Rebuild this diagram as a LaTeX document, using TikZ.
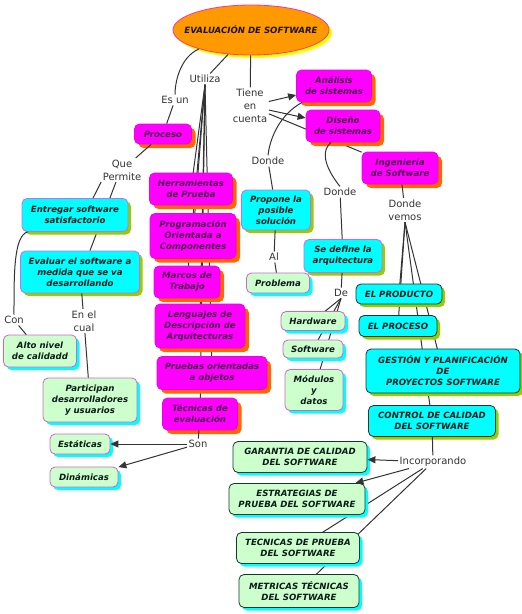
\documentclass[tikz,border=0pt]{standalone}
\usepackage{fontspec}
\setmainfont{DejaVu Sans}
\usetikzlibrary{shapes.geometric,shadows,arrows.meta,backgrounds}
\definecolor{mag}{HTML}{FF00FF}
\definecolor{magsh}{HTML}{FF6600}
\definecolor{cyanf}{HTML}{00FFFF}
\definecolor{ygsh}{HTML}{99CC00}
\definecolor{lgreen}{HTML}{CCFFCC}
\definecolor{violetb}{HTML}{CC66FF}
\definecolor{greenb}{HTML}{CC66CC}
\definecolor{darkb}{HTML}{1A3333}
\definecolor{ellf}{HTML}{FF9900}
\definecolor{ellb}{HTML}{FF3399}
\definecolor{ellsh}{HTML}{FFFF00}
\definecolor{linec}{HTML}{333333}
\definecolor{magtext}{HTML}{4D004D}
\definecolor{boxtext}{HTML}{0D1A1A}
\tikzset{
  box/.style={rectangle, rounded corners=5pt, align=center, inner sep=2pt,
    font=\fontsize{8.6}{11}\selectfont\bfseries\itshape, line width=0.8pt},
  magbox/.style={box, fill=mag, draw=mag!92!black, text=magtext,
    drop shadow={shadow xshift=4pt, shadow yshift=-4pt, fill=magsh, opacity=1}},
  cyanbox/.style={box, fill=cyanf, draw=violetb, text=boxtext,
    drop shadow={shadow xshift=3pt, shadow yshift=-3pt, fill=ygsh, opacity=1}},
  cyandark/.style={cyanbox, draw=darkb},
  greenbox/.style={box, fill=lgreen, draw=greenb, text=boxtext,
    drop shadow={shadow xshift=3pt, shadow yshift=-3pt, fill=cyanf, opacity=1}},
  greendark/.style={greenbox, draw=darkb},
  lbl/.style={font=\fontsize{10}{13}\selectfont, text=linec, align=center, inner sep=1.5pt},
  conn/.style={draw=linec, line width=1pt},
  arr/.style={conn, -{Triangle[length=8pt,width=7pt]}},
}
\begin{document}
\begin{tikzpicture}[x=1pt,y=-1pt]
\useasboundingbox (0,0) rectangle (522,614);

% main ellipse
\node[ellipse, minimum width=156pt, minimum height=50pt, inner xsep=-25pt, inner ysep=0pt,
  fill=ellf, draw=ellb, line width=0.8pt, text=black!85!brown,
  font=\fontsize{8.6}{11}\selectfont\bfseries\itshape,
  drop shadow={shadow xshift=3pt, shadow yshift=-3pt, fill=ellsh, opacity=1}]
  (ell) at (251,30) {EVALUACIÓN DE SOFTWARE};

% magenta boxes
\node[magbox, minimum width=57pt, minimum height=20pt] (proceso) at (163,134) {Proceso};
\node[magbox, minimum width=75pt, minimum height=32pt] (anal) at (334,86) {Análisis\\de sistemas};
\node[magbox, minimum width=74pt, minimum height=32pt] (dis) at (343,126) {Diseño\\de sistemas};
\node[magbox, minimum width=76pt, minimum height=32pt] (ing) at (400,168) {Ingeniería\\de Software};
\node[magbox, minimum width=83pt, minimum height=32pt] (herr) at (191,189) {Herramientas\\de Prueba};
\node[magbox, minimum width=86pt, minimum height=45pt] (prog) at (193,236) {Programación\\Orientada a\\Componentes};
\node[magbox, minimum width=66pt, minimum height=32pt] (marcos) at (187,282) {Marcos de\\Trabajo};
\node[magbox, minimum width=90pt, minimum height=44pt] (leng) at (200,326) {Lenguajes de\\Descripción de\\Arquitecturas};
\node[magbox, minimum width=110pt, minimum height=33pt] (pruebas) at (212,373) {Pruebas orientadas\\a objetos};
\node[magbox, minimum width=75pt, minimum height=32pt] (tecev) at (200,414) {Técnicas de\\evaluación};

% cyan boxes
\node[cyanbox, minimum width=106pt, minimum height=33pt] (entregar) at (75,215) {Entregar software\\satisfactorio};
\node[cyanbox, minimum width=119pt, minimum height=42pt] (evaluar) at (80,272) {Evaluar el software a\\medida que se va\\desarrollando};
\node[cyanbox, minimum width=69pt, minimum height=40pt] (propone) at (276,210) {Propone la\\posible\\solución};
\node[cyanbox, minimum width=78pt, minimum height=33pt] (sedef) at (343,256) {Se define la\\arquitectura};
\node[cyandark, minimum width=86pt, minimum height=20pt] (producto) at (399,294) {EL PRODUCTO};
\node[cyandark, minimum width=78pt, minimum height=21pt] (procesob) at (398,326) {EL PROCESO};
\node[cyandark, minimum width=154pt, minimum height=44pt] (gestion) at (443,371) {GESTIÓN Y PLANIFICACIÓN\\DE\\PROYECTOS SOFTWARE};
\node[cyandark, minimum width=127pt, minimum height=31pt] (control) at (432,421) {CONTROL DE CALIDAD\\DEL SOFTWARE};

% green boxes
\node[greenbox, minimum width=73pt, minimum height=32pt] (alto) at (40,351) {Alto nivel\\de calidadd};
\node[greenbox, minimum width=94pt, minimum height=44pt] (partic) at (90,400) {Participan\\desarrolladores\\y usuarios};
\node[greenbox, minimum width=60pt, minimum height=20pt] (estat) at (80,444) {Estáticas};
\node[greenbox, minimum width=68pt, minimum height=20pt] (dinam) at (84,477) {Dinámicas};
\node[greenbox, minimum width=63pt, minimum height=20pt] (problema) at (278,283) {Problema};
\node[greenbox, minimum width=64pt, minimum height=19pt] (hw) at (313,321) {Hardware};
\node[greenbox, minimum width=60pt, minimum height=18pt] (sw) at (313,349) {Software};
\node[greenbox, minimum width=58pt, minimum height=41pt] (modulos) at (314,390) {Módulos\\y\\datos};
\node[greendark, minimum width=134pt, minimum height=31pt] (garantia) at (300,457) {GARANTIA DE CALIDAD\\DEL SOFTWARE};
\node[greendark, minimum width=136pt, minimum height=31pt] (estrat) at (297,499) {ESTRATEGIAS DE\\PRUEBA DEL SOFTWARE};
\node[greendark, minimum width=123pt, minimum height=31pt] (tecpr) at (298,548) {TECNICAS DE PRUEBA\\DEL SOFTWARE};
\node[greendark, minimum width=120pt, minimum height=33pt] (metricas) at (299,591) {METRICAS TÉCNICAS\\DEL SOFTWARE};

% labels
\node[lbl] (utiliza) at (205,79) {Utiliza};
\node[lbl] (esun) at (175,100) {Es un};
\node[lbl] (tiene) at (250,106) {Tiene\\en\\cuenta};
\node[lbl] (permite) at (122,170) {Que\\Permite};
\node[lbl] (con) at (14,320) {Con};
\node[lbl] (enelcual) at (84,321) {En el\\cual};
\node[lbl] (son) at (198,444) {Son};
\node[lbl] (donde1) at (268,161) {Donde};
\node[lbl] (al) at (274,257) {Al};
\node[lbl] (donde2) at (340,192) {Donde};
\node[lbl] (de) at (341,293) {De};
\node[lbl] (dvemos) at (405,210) {Donde\\vemos};
\node[lbl] (incorp) at (433,462) {Incorporando};

% connectors in front
\draw[conn] (ell.200) .. controls +(-18,8) and +(0,-14) .. (esun.north);
\draw[conn] (esun) -- (proceso);
\draw[conn] (ell) -- (utiliza);
\draw[conn] (ell) -- (tiene);
\draw[conn] (proceso) -- (permite);
\draw[conn] (permite.south west) -- ([xshift=18pt]entregar.north);
\draw[conn] ([xshift=6pt]entregar.south west) .. controls +(-14,4) and +(0,-40) .. (con.north);
\draw[conn] (con) -- (alto);
\draw[conn] (evaluar) -- (enelcual);
\draw[conn] (enelcual) -- (partic);
\draw[conn] (tecev) -- (son);
\draw[arr] (son) -- (estat);
\draw[arr] (son) -- (dinam);
\draw[arr] (tiene) -- (anal);
\draw[arr] (tiene) -- (dis);
\draw[conn] ([xshift=6pt]anal.south west) .. controls +(-22,12) and +(2,-18) .. (donde1.north);
\draw[conn] (donde1) -- (propone);
\draw[conn] (propone) -- (al);
\draw[conn] (al) -- (problema);
\draw[conn] ([xshift=-12pt]dis.south) .. controls +(-14,12) and +(-8,-10) .. (donde2.north);
\draw[conn] (donde2) -- (sedef);
\draw[conn] (sedef) -- (de);
\draw[conn] (ing) -- (dvemos);
\draw[conn] (control) -- (incorp);
\draw[arr] (incorp) -- (garantia);
\draw[arr] (incorp) -- (estrat);

% connectors behind boxes
\begin{scope}[on background layer]
\draw[conn] (utiliza.south) -- (herr.center);
\draw[conn] (utiliza.south) -- (prog.center);
\draw[conn] (utiliza.south) -- (marcos.center);
\draw[conn] (utiliza.south) -- (leng.center);
\draw[conn] (utiliza.south) -- (pruebas.center);
\draw[conn] (utiliza.south) -- (tecev.center);
\draw[conn] ([xshift=-6pt]permite.south) -- ([xshift=10pt]evaluar.north);
\draw[conn] (tiene) -- (ing);
\draw[conn] (de.south) -- (hw.center);
\draw[conn] (de.south) -- (sw.center);
\draw[conn] (de.south) -- (modulos.center);
\draw[conn] (dvemos.south) -- (producto.center);
\draw[conn] (dvemos.south) -- (procesob.center);
\draw[conn] (dvemos.south) -- (gestion.center);
\draw[conn] (dvemos.south) -- (control.center);
\draw[conn] (incorp) -- (tecpr.center);
\draw[conn] (incorp) -- (metricas.center);
\end{scope}
\end{tikzpicture}
\end{document}
